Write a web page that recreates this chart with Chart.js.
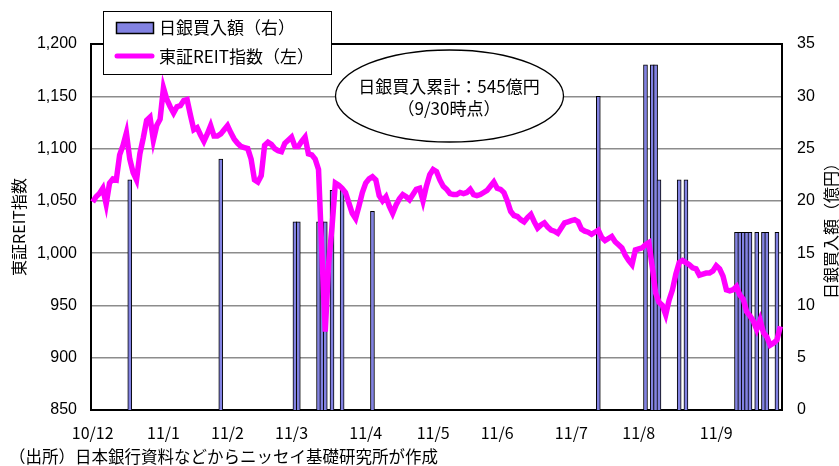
<!DOCTYPE html>
<html lang="ja">
<head>
<meta charset="utf-8">
<script src="https://cdn.jsdelivr.net/npm/chart.js@4.4.0/dist/chart.umd.min.js"></script>
<style>
    html, body { margin: 0; padding: 0; background: #fff; }
    #wrap { width: 839px; height: 466px; }
</style>
</head>
<body>
<div id="wrap"><canvas id="reitChart" width="839" height="466"></canvas></div>
<script>
// 東証休場日（平日）
const holidays = [
    '2010-12-23', '2010-12-31', '2011-01-03', '2011-01-10', '2011-02-11',
    '2011-03-21', '2011-04-29', '2011-05-03', '2011-05-04', '2011-05-05',
    '2011-07-18', '2011-09-19', '2011-09-23'
];

// 東証REIT指数（日次終値、2010/12/1〜2011/9/30）
const reitIndex = [
    1049, 1054, 1057, 1062, 1047, 1067, 1071, 1070, 1094, 1103,
    1115, 1090, 1077, 1070, 1095, 1110, 1127, 1130, 1108, 1122,
    1128, 1158, 1147, 1140, 1134, 1140, 1141, 1146, 1147, 1132,
    1118, 1120, 1113, 1107, 1114, 1122, 1112, 1112, 1114, 1118,
    1122, 1115, 1109, 1105, 1102, 1101, 1100, 1090, 1070, 1068,
    1074, 1103, 1106, 1104, 1100, 1098, 1097, 1105, 1108, 1111,
    1102, 1102, 1107, 1111, 1095, 1094, 1090, 1080, 1000, 925,
    990, 1025, 1067, 1065, 1062, 1058, 1048, 1038, 1033, 1045,
    1058, 1067, 1071, 1073, 1070, 1055, 1050, 1054, 1045, 1038,
    1046, 1052, 1056, 1054, 1051, 1056, 1061, 1062, 1050, 1064,
    1075, 1080, 1078, 1070, 1064, 1061, 1057, 1056, 1056, 1058,
    1057, 1058, 1061, 1056, 1055, 1056, 1058, 1060, 1064, 1068,
    1062, 1061, 1058, 1050, 1040, 1036, 1035, 1032, 1030, 1034,
    1037, 1030, 1024, 1027, 1029, 1025, 1022, 1021, 1019, 1024,
    1029, 1030, 1031, 1032, 1030, 1023, 1021, 1020, 1018, 1020,
    1022, 1015, 1012, 1014, 1016, 1011, 1008, 1005, 998, 993,
    989, 1003, 1004, 1005, 1008, 1010, 987, 962, 953, 950,
    941, 955, 965, 980, 991, 993, 991, 989, 986, 985,
    979, 980, 981, 981, 983, 988, 985, 978, 965, 964,
    965, 968, 960, 956, 944, 940, 935, 927, 936, 924,
    920, 912, 914, 917, 930
];

// 日銀のJ-REIT買入日と金額（億円）
const buyDates = [
    '2010-12-16', '2011-01-28', '2011-03-02', '2011-03-03', '2011-03-11',
    '2011-03-14', '2011-03-15', '2011-03-17', '2011-03-23', '2011-04-05',
    '2011-07-13', '2011-08-03', '2011-08-05', '2011-08-08', '2011-08-09',
    '2011-08-17', '2011-08-19', '2011-09-09', '2011-09-12', '2011-09-13',
    '2011-09-14', '2011-09-15', '2011-09-20', '2011-09-22', '2011-09-26',
    '2011-09-29'
];
const buyAmounts = [
    22, 24, 18, 18, 18,
    18, 18, 21, 21, 19,
    30, 33, 33, 33, 22,
    22, 22, 17, 17, 17,
    17, 17, 17, 17, 17,
    17
];

const leftTicks = [850, 900, 950, 1000, 1050, 1100, 1150, 1200];
const rightTicks = [0, 5, 10, 15, 20, 25, 30, 35];

const JP = '"Noto Sans CJK JP", sans-serif';
const NUM = '"Liberation Sans", Arial, sans-serif';
const BAR_COLOR = '#8282e2';
const LINE_COLOR = '#ff00ff';

function pad2(n) {
    return n < 10 ? '0' + n : '' + n;
}

// 営業日の一覧を作る
function businessDays() {
    const days = [];
    const d = new Date(2010, 11, 1);
    const end = new Date(2011, 8, 30);
    while (d <= end) {
        const key = d.getFullYear() + '-' + pad2(d.getMonth() + 1) + '-' + pad2(d.getDate());
        const wd = d.getDay();
        if (wd !== 0 && wd !== 6 && holidays.indexOf(key) < 0) {
            days.push(key);
        }
        d.setDate(d.getDate() + 1);
    }
    return days;
}

const dates = businessDays();
if (dates.length !== reitIndex.length) {
    console.error('営業日数が一致しません', dates.length, reitIndex.length);
}

const buyValues = dates.map(key => {
    const i = buyDates.indexOf(key);
    return i >= 0 ? buyAmounts[i] : null;
});

// 月初の営業日だけ「yy/m」を表示
function monthLabel(idx) {
    const key = dates[idx];
    if (!key) return null;
    if (idx > 0 && dates[idx - 1].slice(0, 7) === key.slice(0, 7)) return null;
    return key.slice(2, 4) + '/' + parseInt(key.slice(5, 7), 10);
}

const decorPlugin = {
    id: 'decor',
    afterDraw(chart) {
        const ctx = chart.ctx;
        const area = chart.chartArea;
        ctx.save();

        // 枠の上辺
        ctx.strokeStyle = '#000';
        ctx.lineWidth = 2;
        ctx.beginPath();
        ctx.moveTo(area.left, area.top);
        ctx.lineTo(area.right, area.top);
        ctx.stroke();

        // 凡例
        ctx.fillStyle = '#fff';
        ctx.fillRect(103.5, 11.5, 228, 63);
        ctx.lineWidth = 1;
        ctx.strokeRect(103.5, 11.5, 228, 63);
        ctx.fillStyle = BAR_COLOR;
        ctx.fillRect(116.5, 22.5, 37, 11);
        ctx.lineWidth = 1.5;
        ctx.strokeRect(116.5, 22.5, 37, 11);
        ctx.strokeStyle = LINE_COLOR;
        ctx.lineWidth = 5;
        ctx.lineCap = 'round';
        ctx.beginPath();
        ctx.moveTo(117, 56);
        ctx.lineTo(152, 56);
        ctx.stroke();
        ctx.fillStyle = '#000';
        ctx.font = '17px ' + JP;
        ctx.textBaseline = 'middle';
        ctx.textAlign = 'left';
        ctx.fillText('日銀買入額（右）', 159, 28);
        ctx.fillText('東証REIT指数（左）', 159, 57);

        // 累計の吹き出し
        ctx.beginPath();
        ctx.ellipse(449.5, 96, 114, 46, 0, 0, Math.PI * 2);
        ctx.fillStyle = '#fff';
        ctx.fill();
        ctx.strokeStyle = '#000';
        ctx.lineWidth = 1.3;
        ctx.stroke();
        ctx.fillStyle = '#000';
        ctx.textAlign = 'center';
        ctx.font = '17px ' + JP;
        ctx.fillText('日銀買入累計：545億円', 449, 87);
        ctx.fillText('（9/30時点）', 449, 109);

        // 軸タイトル（どちらも下から上へ）
        ctx.font = '16px ' + JP;
        ctx.save();
        ctx.translate(18.5, (area.top + area.bottom) / 2);
        ctx.rotate(-Math.PI / 2);
        ctx.fillText('東証REIT指数', 0, 0);
        ctx.restore();
        ctx.save();
        ctx.translate(830.5, (area.top + area.bottom) / 2);
        ctx.rotate(-Math.PI / 2);
        ctx.fillText('日銀買入額（億円）', 0, 0);
        ctx.restore();

        // 出所
        ctx.textAlign = 'left';
        ctx.font = '16.5px ' + JP;
        ctx.fillText('（出所）日本銀行資料などからニッセイ基礎研究所が作成', 9, 457);

        ctx.restore();
    }
};

new Chart(document.getElementById('reitChart').getContext('2d'), {
    data: {
        labels: dates,
        datasets: [
            {
                type: 'line',
                label: '東証REIT指数（左）',
                data: reitIndex,
                yAxisID: 'yL',
                borderColor: LINE_COLOR,
                borderWidth: 5.5,
                pointRadius: 0,
                tension: 0,
                order: 0
            },
            {
                type: 'bar',
                label: '日銀買入額（右）',
                data: buyValues,
                yAxisID: 'yR',
                backgroundColor: BAR_COLOR,
                borderColor: '#000',
                borderWidth: 1,
                barThickness: 4,
                order: 1
            }
        ]
    },
    options: {
        responsive: false,
        animation: false,
        layout: { padding: { top: 44, left: 0, right: 0, bottom: 0 } },
        plugins: {
            legend: { display: false },
            tooltip: { enabled: false }
        },
        scales: {
            x: {
                type: 'category',
                grid: { display: false, drawTicks: false },
                border: { display: true, color: '#000', width: 2 },
                ticks: {
                    autoSkip: false,
                    maxRotation: 0,
                    padding: 13,
                    color: '#000',
                    font: { family: JP, size: 16 },
                    callback: function(val, idx) { return monthLabel(idx); }
                },
                afterFit: function(scale) { scale.height = 56; }
            },
            yL: {
                position: 'left',
                min: 850,
                max: 1200,
                afterBuildTicks: function(scale) {
                    scale.ticks = leftTicks.map(v => ({ value: v }));
                },
                grid: { color: '#8c8c8c', lineWidth: 1.5, drawTicks: false },
                border: { display: true, color: '#000', width: 2 },
                ticks: {
                    padding: 14,
                    color: '#000',
                    font: { family: NUM, size: 16 },
                    callback: v => v.toLocaleString('en-US')
                },
                afterFit: function(scale) { scale.width = 91; }
            },
            yR: {
                position: 'right',
                min: 0,
                max: 35,
                afterBuildTicks: function(scale) {
                    scale.ticks = rightTicks.map(v => ({ value: v }));
                },
                grid: { display: false, drawTicks: false },
                border: { display: true, color: '#000', width: 2 },
                ticks: {
                    padding: 15,
                    color: '#000',
                    font: { family: NUM, size: 16 }
                },
                afterFit: function(scale) { scale.width = 57; }
            }
        }
    },
    plugins: [decorPlugin]
});
</script>
</body>
</html>
